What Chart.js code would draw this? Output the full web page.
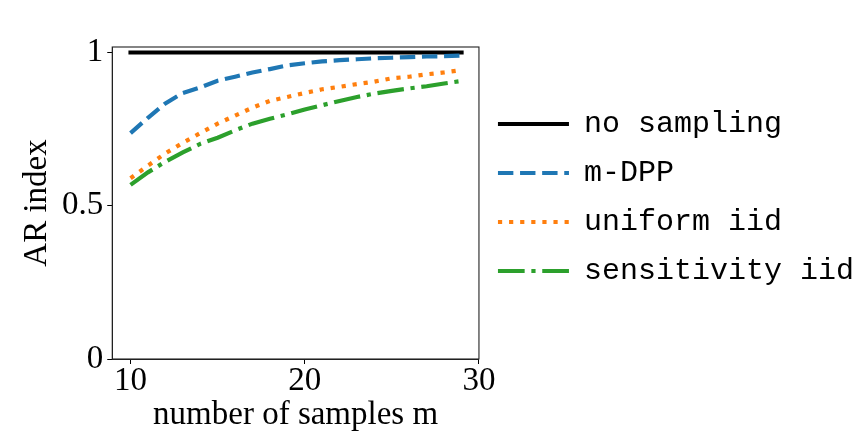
<!DOCTYPE html>
<html lang="en">
<head>
  <meta charset="UTF-8">
  <title>AR index vs number of samples</title>
  <style>
    html, body { margin: 0; padding: 0; background: #fff; }
    #wrap { width: 864px; height: 432px; }
  </style>
</head>
<body>
  <div id="wrap"><canvas id="arChart" width="864" height="432"></canvas></div>

  <script src="https://cdn.jsdelivr.net/npm/chart.js"></script>
  <script>
    // number of samples m
    const mValues = [10, 11, 12, 13, 14, 15, 16, 17, 18, 19, 20, 21, 22, 23, 24, 25, 26, 27, 28, 29];

    // AR index per method
    const noSampling = [1, 1, 1, 1, 1, 1, 1, 1, 1, 1, 1, 1, 1, 1, 1, 1, 1, 1, 1, 1];
    const mDPP = [0.737, 0.787, 0.834, 0.868, 0.886, 0.908, 0.921, 0.935, 0.946, 0.958,
                  0.965, 0.971, 0.975, 0.978, 0.981, 0.983, 0.985, 0.987, 0.988, 0.990];
    const uniformIid = [0.590, 0.631, 0.671, 0.705, 0.737, 0.768, 0.794, 0.820, 0.842, 0.855,
                        0.868, 0.880, 0.888, 0.897, 0.905, 0.916, 0.921, 0.929, 0.935, 0.943];
    const sensitivityIid = [0.568, 0.609, 0.644, 0.674, 0.702, 0.722, 0.746, 0.768, 0.784, 0.798,
                            0.814, 0.828, 0.842, 0.855, 0.866, 0.875, 0.883, 0.890, 0.899, 0.907];

    const xTicks = [10, 20, 30];
    const yTicks = [0, 0.5, 1];

    const serif = "'Liberation Serif', 'DejaVu Serif', serif";
    const mono = "'Liberation Mono', 'DejaVu Sans Mono', monospace";

    function pairs(ys) {
      return ys.map((y, i) => ({ x: mValues[i], y: y }));
    }

    // full box around the plot, like matplotlib spines
    const frame = {
      id: 'frame',
      afterDatasetsDraw(chart) {
        const a = chart.chartArea, c = chart.ctx;
        c.save();
        c.strokeStyle = '#222';
        c.lineWidth = 1.1;
        c.strokeRect(a.left, a.top, a.right - a.left, a.bottom - a.top);
        c.restore();
      }
    };

    const lw = 4.2;
    const common = { fill: false, pointRadius: 0, pointHoverRadius: 0, tension: 0, borderWidth: lw, pointRotation: 180 };

    new Chart(document.getElementById('arChart').getContext('2d'), {
      type: 'line',
      data: {
        datasets: [
          Object.assign({ label: 'no sampling', data: pairs(noSampling), borderColor: '#000000', backgroundColor: '#000000', borderCapStyle: 'square', order: 4 }, common),
          Object.assign({ label: 'm-DPP', data: pairs(mDPP), borderColor: '#1f77b4', backgroundColor: '#1f77b4', borderDash: [15.4, 6.7], borderCapStyle: 'butt', order: 3 }, common),
          Object.assign({ label: 'uniform iid', data: pairs(uniformIid), borderColor: '#ff7f0e', backgroundColor: '#ff7f0e', borderDash: [4.2, 6.9], borderCapStyle: 'butt', order: 2 }, common),
          Object.assign({ label: 'sensitivity iid', data: pairs(sensitivityIid), borderColor: '#2ca02c', backgroundColor: '#2ca02c', borderDash: [26.7, 6.7, 4.2, 6.7], borderCapStyle: 'butt', order: 1 }, common)
        ]
      },
      options: {
        responsive: false,
        animation: false,
        layout: { padding: { left: 21, top: 47, bottom: 0, right: 0 } },
        scales: {
          x: {
            type: 'linear',
            min: 8.95,
            max: 30,
            afterBuildTicks: axis => { axis.ticks = xTicks.map(v => ({ value: v })); },
            ticks: {
              color: '#000',
              padding: 1,
              maxRotation: 0,
              font: { family: serif, size: 33, lineHeight: 1 },
              callback: v => String(v)
            },
            grid: { display: true, drawOnChartArea: false, drawTicks: true, tickLength: 5, tickColor: '#000', tickWidth: 1 },
            border: { display: true, color: '#222', width: 1 },
            title: {
              display: true,
              text: 'number of samples m',
              color: '#000',
              padding: { top: 0, bottom: 0 },
              font: { family: serif, size: 33, lineHeight: 1 }
            }
          },
          y: {
            min: 0,
            max: 1.018,
            afterBuildTicks: axis => { axis.ticks = yTicks.map(v => ({ value: v })); },
            ticks: {
              color: '#000',
              padding: 4,
              font: { family: serif, size: 33, lineHeight: 1 },
              callback: v => String(v)
            },
            grid: { display: true, drawOnChartArea: false, drawTicks: true, tickLength: 5, tickColor: '#000', tickWidth: 1 },
            border: { display: true, color: '#222', width: 1 },
            title: {
              display: true,
              text: 'AR index',
              color: '#000',
              padding: { top: 0, bottom: 4 },
              font: { family: serif, size: 33, lineHeight: 1 }
            }
          }
        },
        plugins: {
          tooltip: { enabled: false },
          legend: {
            position: 'right',
            align: 'start',
            maxWidth: 387,
            title: { display: true, text: ' ', padding: { top: 31, bottom: 0 }, font: { size: 10, lineHeight: 1.2 } },
            labels: {
              usePointStyle: true,
              pointStyle: 'line',
              pointStyleWidth: 71,
              padding: 19,
              color: '#000',
              font: { family: mono, size: 30 },
              sort: (a, b) => a.datasetIndex - b.datasetIndex,
              generateLabels: chart => {
                const items = Chart.defaults.plugins.legend.labels.generateLabels(chart);
                items.forEach(item => {
                  const ds = chart.data.datasets[item.datasetIndex];
                  item.lineDash = ds.borderDash || [];
                  item.lineWidth = ds.borderWidth;
                  item.strokeStyle = ds.borderColor;
                  item.lineCap = 'butt';
                  item.rotation = 180;
                });
                return items;
              }
            }
          }
        }
      },
      plugins: [frame]
    });
  </script>
</body>
</html>
